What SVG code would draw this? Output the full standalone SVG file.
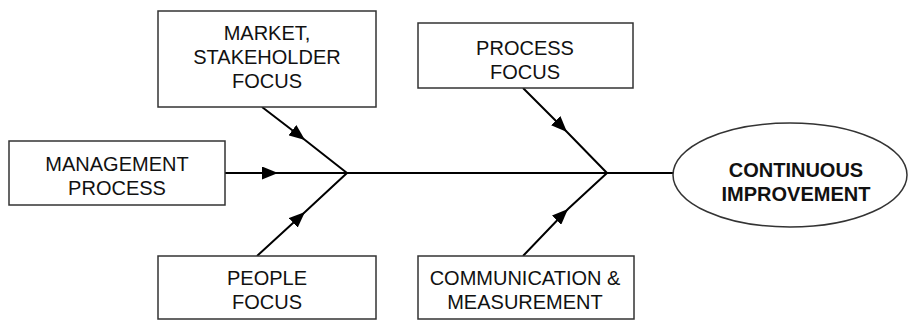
<svg xmlns="http://www.w3.org/2000/svg" width="910" height="322" viewBox="0 0 910 322">
  <style>
    .box { fill: #ffffff; stroke: #333333; stroke-width: 1.5; }
    .lbl { font-family: "Liberation Sans", Arial, sans-serif; font-size: 20px; fill: #111111; text-anchor: middle; }
    .bold { font-weight: bold; }
    .conn { fill: none; stroke: #000000; stroke-width: 2; marker-mid: url(#arrow); }
  </style>
  <defs>
    <marker id="arrow" viewBox="0 0 16 13" refX="16" refY="6.5" markerWidth="16" markerHeight="13" markerUnits="userSpaceOnUse" orient="auto">
      <path d="M0,0 L16,6.5 L0,13 Z" fill="#000000"/>
    </marker>
  </defs>
  <rect width="910" height="322" fill="#ffffff"/>

  <g id="connectors">
    <path class="conn" d="M225,173 L278,173 L347,173"/>
    <path class="conn" d="M262,107 L305,140 L347,173"/>
    <path class="conn" d="M257,256 L305,212 L347,173"/>
    <path class="conn" d="M523,88 L567,132 L607,173"/>
    <path class="conn" d="M523,256 L568,209 L607,173"/>
    <path fill="none" stroke="#000" stroke-width="2" d="M347,173 L673,173"/>
  </g>

  <g id="market">
    <rect class="box" x="158" y="11" width="218" height="96"/>
    <text class="lbl" x="267" y="40">MARKET,</text>
    <text class="lbl" x="267" y="64">STAKEHOLDER</text>
    <text class="lbl" x="267" y="88">FOCUS</text>
  </g>
  <g id="management">
    <rect class="box" x="9" y="141" width="216" height="64"/>
    <text class="lbl" x="117" y="171">MANAGEMENT</text>
    <text class="lbl" x="117" y="195">PROCESS</text>
  </g>
  <g id="people">
    <rect class="box" x="158" y="256" width="218" height="63"/>
    <text class="lbl" x="267" y="285">PEOPLE</text>
    <text class="lbl" x="267" y="309">FOCUS</text>
  </g>
  <g id="process">
    <rect class="box" x="418" y="23" width="215" height="65"/>
    <text class="lbl" x="525" y="55">PROCESS</text>
    <text class="lbl" x="525" y="79">FOCUS</text>
  </g>
  <g id="communication">
    <rect class="box" x="418" y="256" width="216" height="63"/>
    <text class="lbl" x="525" y="285">COMMUNICATION &amp;</text>
    <text class="lbl" x="525" y="309">MEASUREMENT</text>
  </g>
  <g id="improvement">
    <ellipse class="box" cx="790" cy="175" rx="117" ry="52"/>
    <text class="lbl bold" x="796" y="177">CONTINUOUS</text>
    <text class="lbl bold" x="796" y="201">IMPROVEMENT</text>
  </g>
</svg>
